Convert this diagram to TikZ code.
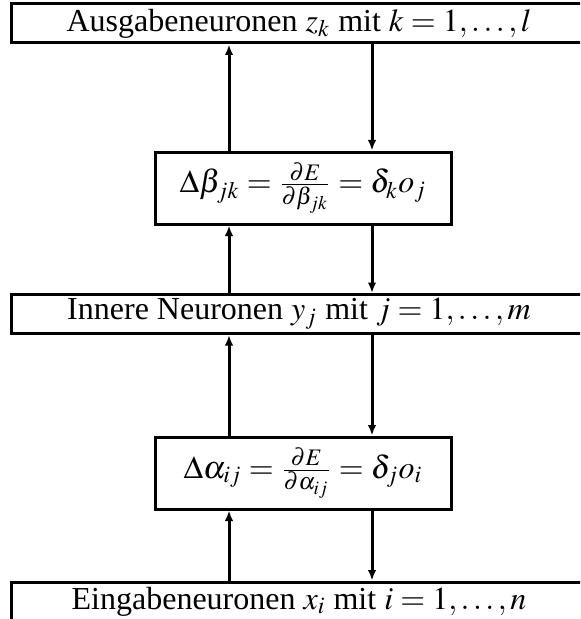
\documentclass[tikz,border=0pt]{standalone}
\usepackage{mathptmx}
\usepackage{fontspec}
\setmainfont{Liberation Serif}
\usetikzlibrary{arrows.meta}
\begin{document}
\begin{tikzpicture}[x=0.4pt,y=-0.4pt,
  wide/.style={draw,line width=1.2pt,minimum width=576*0.4pt,minimum height=39*0.4pt,inner sep=0pt,font=\fontsize{12.8}{15}\selectfont},
  formbox/.style={draw,line width=1.2pt,minimum width=296*0.4pt,minimum height=72*0.4pt,inner sep=0pt,font=\fontsize{12.8}{15}\selectfont},
  conn/.style={line width=1.2pt,-{Latex[length=4.2pt,width=3.4pt]}}]
\useasboundingbox (0,0) rectangle (580,619);
\clip (0,0) rectangle (580,619);
\node[wide] (out) at (299,23.5) {Ausgabeneuronen $z_k$ mit $k=1,\ldots,l$};
\node[formbox] (beta) at (303,188) {$\Delta\beta_{jk}=\frac{\partial E}{\partial\beta_{jk}}=\delta_k o_j$};
\node[wide] (hid) at (299,314) {Innere Neuronen $y_j$ mit $j=1,\ldots,m$};
\node[formbox] (alpha) at (303,473) {$\Delta\alpha_{ij}=\frac{\partial E}{\partial\alpha_{ij}}=\delta_j o_i$};
\node[wide] (in) at (299,601.5) {Eingabeneuronen $x_i$ mit $i=1,\ldots,n$};
\coordinate (L) at (229,0);
\coordinate (R) at (372,0);
\draw[conn] (beta.north -| L) -- (out.south -| L);
\draw[conn] (out.south -| R) -- (beta.north -| R);
\draw[conn] (hid.north -| L) -- (beta.south -| L);
\draw[conn] (beta.south -| R) -- (hid.north -| R);
\draw[conn] (alpha.north -| L) -- (hid.south -| L);
\draw[conn] (hid.south -| R) -- (alpha.north -| R);
\draw[conn] (in.north -| L) -- (alpha.south -| L);
\draw[conn] (alpha.south -| R) -- (in.north -| R);
\end{tikzpicture}
\end{document}
